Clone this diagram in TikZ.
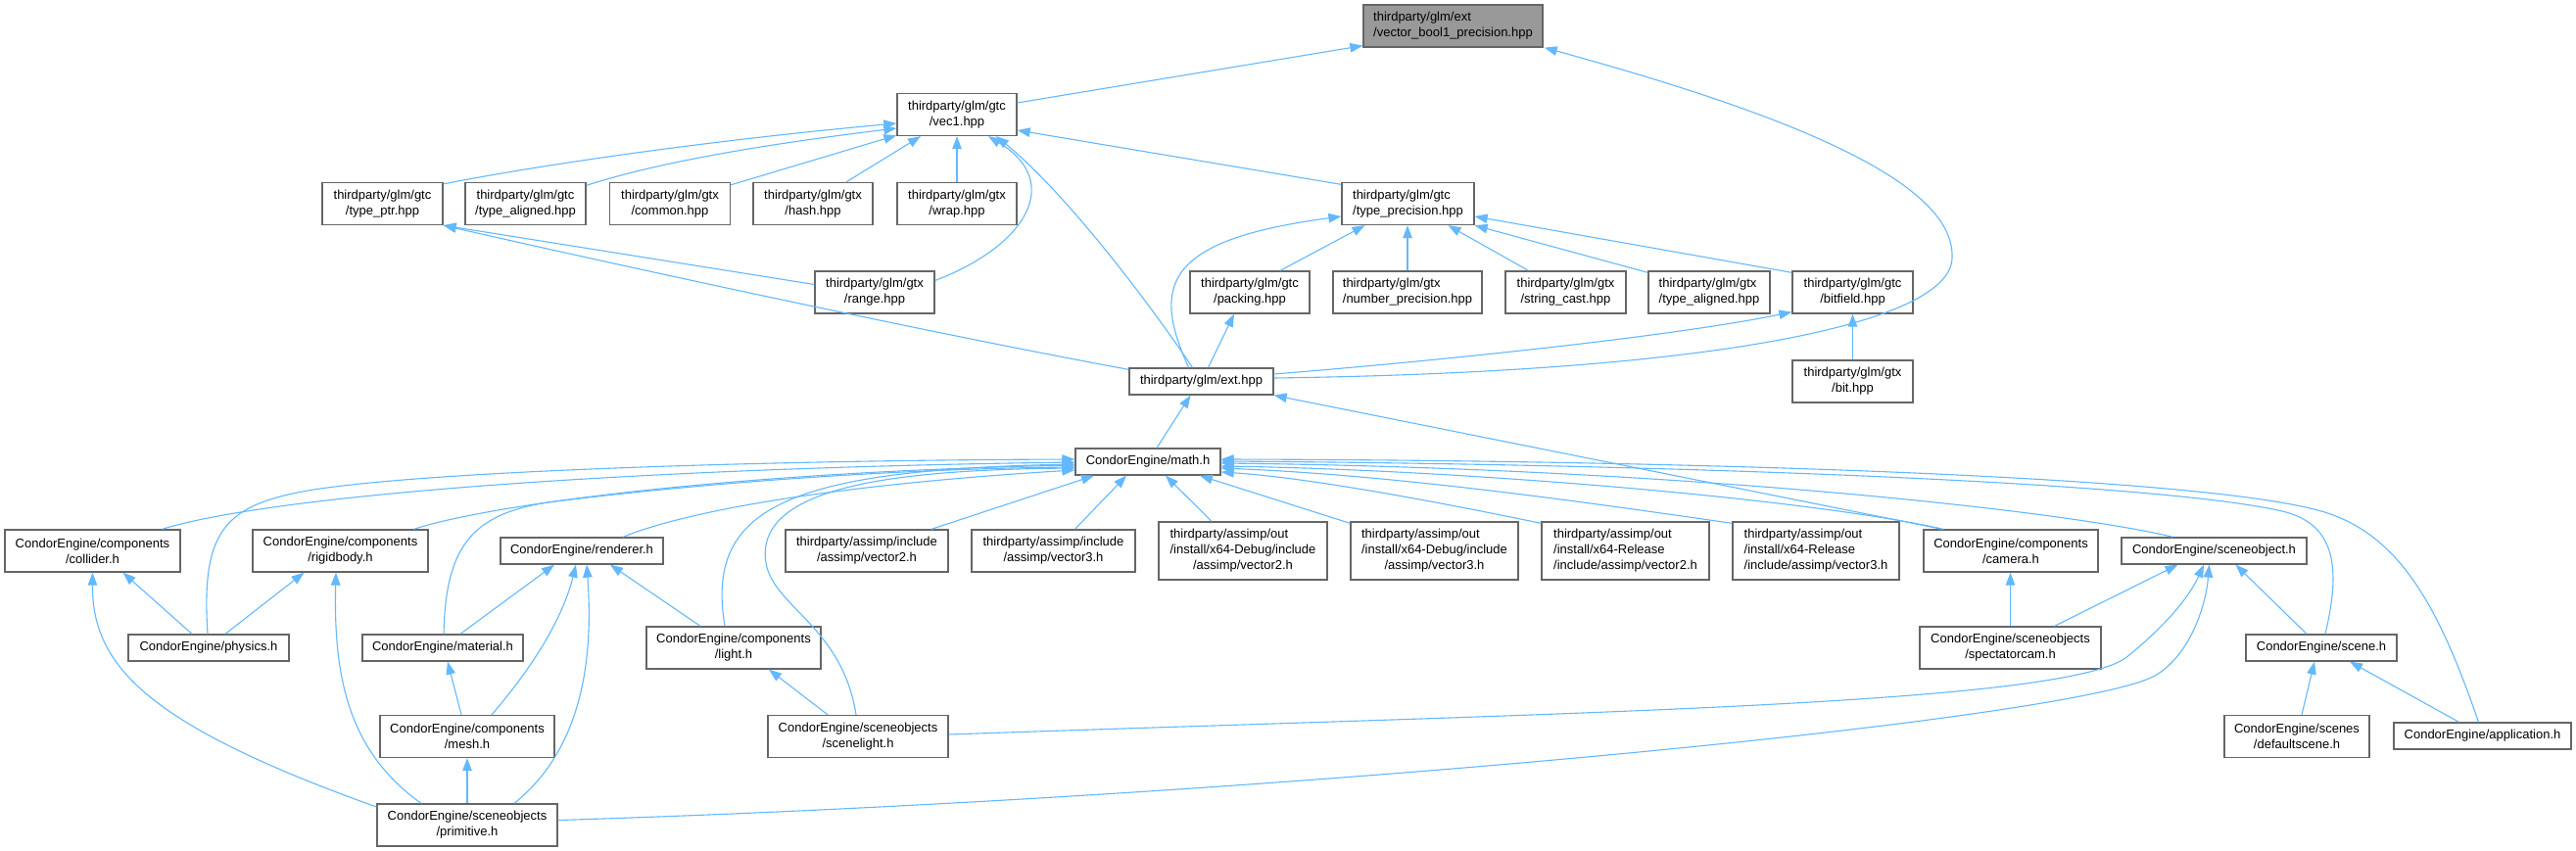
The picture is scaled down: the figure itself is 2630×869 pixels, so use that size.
\documentclass[tikz,border=0pt]{standalone}
\usepackage{fontspec}
\usepackage{tikz}
\usetikzlibrary{arrows.meta}
\newfontfamily\graphfont{Liberation Sans}
\definecolor{edgeblue}{RGB}{99,184,255}
\definecolor{nodeborder}{RGB}{102,102,102}
\definecolor{rootfill}{RGB}{153,153,153}
\newcommand{\mixlines}[3]{\begin{tabular}{@{}l@{}}#1\\#2\\\multicolumn{1}{@{}c@{}}{#3}\end{tabular}}
\begin{document}
\begin{tikzpicture}[x=1pt, y=-1pt,
    file/.style={draw=nodeborder, fill=white, line width=1.3pt, inner sep=0pt, text=black,
        font={\graphfont\fontsize{13}{16}\selectfont}},
    one/.style={file, minimum height=27pt},
    two/.style={file, minimum height=43pt},
    three/.style={file, minimum height=59pt},
    incl/.style={draw=edgeblue, line width=1.1pt, -{Triangle[length=13pt,width=9.5pt]}}]
    \useasboundingbox (0,0) rectangle (2630,869);
    % files
    \node[two, minimum width=183pt, fill=rootfill, align=left] (vb1) at (1483.5,26.5) {thirdparty/glm/ext\\/vector\_bool1\_precision.hpp};
    \node[two, minimum width=122pt, align=center] (vec1) at (977,117) {thirdparty/glm/gtc\\/vec1.hpp};
    \node[two, minimum width=123pt, align=center] (tptr) at (390.5,208) {thirdparty/glm/gtc\\/type\_ptr.hpp};
    \node[two, minimum width=123pt, align=center] (tal1) at (536.5,208) {thirdparty/glm/gtc\\/type\_aligned.hpp};
    \node[two, minimum width=123pt, align=center] (common) at (684,208) {thirdparty/glm/gtx\\/common.hpp};
    \node[two, minimum width=122pt, align=center] (hash) at (830,208) {thirdparty/glm/gtx\\/hash.hpp};
    \node[two, minimum width=122pt, align=center] (wrap) at (977,208) {thirdparty/glm/gtx\\/wrap.hpp};
    \node[two, minimum width=135pt, align=left] (tprec) at (1437.5,208) {thirdparty/glm/gtc\\/type\_precision.hpp};
    \node[two, minimum width=122pt, align=center] (range) at (893,298.5) {thirdparty/glm/gtx\\/range.hpp};
    \node[two, minimum width=122pt, align=center] (packing) at (1276,298.5) {thirdparty/glm/gtc\\/packing.hpp};
    \node[two, minimum width=152pt, align=left] (nprec) at (1437,298.5) {thirdparty/glm/gtx\\/number\_precision.hpp};
    \node[two, minimum width=123pt, align=center] (strcast) at (1598.5,298.5) {thirdparty/glm/gtx\\/string\_cast.hpp};
    \node[two, minimum width=124pt, align=left] (tal2) at (1745,298.5) {thirdparty/glm/gtx\\/type\_aligned.hpp};
    \node[two, minimum width=123pt, align=center] (bitfield) at (1891.5,298.5) {thirdparty/glm/gtc\\/bitfield.hpp};
    \node[one, minimum width=147pt] (ext) at (1226.5,389.5) {thirdparty/glm/ext.hpp};
    \node[two, minimum width=123pt, align=center] (bit) at (1891.5,389.5) {thirdparty/glm/gtx\\/bit.hpp};
    \node[one, minimum width=148pt] (math) at (1172,471.5) {CondorEngine/math.h};
    \node[two, minimum width=179pt, align=center] (collider) at (94.5,562.5) {CondorEngine/components\\/collider.h};
    \node[two, minimum width=179pt, align=center] (rigid) at (347.5,562.5) {CondorEngine/components\\/rigidbody.h};
    \node[one, minimum width=166pt] (renderer) at (594,562.5) {CondorEngine/renderer.h};
    \node[two, minimum width=166pt, align=center] (avi2) at (885,562.5) {thirdparty/assimp/include\\/assimp/vector2.h};
    \node[two, minimum width=167pt, align=center] (avi3) at (1075.5,562.5) {thirdparty/assimp/include\\/assimp/vector3.h};
    \node[three, minimum width=172pt] (dbg2) at (1269,562.5) {\mixlines{thirdparty/assimp/out}{/install/x64-Debug/include}{/assimp/vector2.h}};
    \node[three, minimum width=171pt] (dbg3) at (1464.5,562.5) {\mixlines{thirdparty/assimp/out}{/install/x64-Debug/include}{/assimp/vector3.h}};
    \node[three, minimum width=171pt, align=left] (rel2) at (1659.5,562.5) {thirdparty/assimp/out\\/install/x64-Release\\/include/assimp/vector2.h};
    \node[three, minimum width=170pt, align=left] (rel3) at (1854,562.5) {thirdparty/assimp/out\\/install/x64-Release\\/include/assimp/vector3.h};
    \node[two, minimum width=178pt, align=center] (camera) at (2053,562.5) {CondorEngine/components\\/camera.h};
    \node[one, minimum width=189pt] (sobj) at (2260.5,562.5) {CondorEngine/sceneobject.h};
    \node[one, minimum width=164pt] (physics) at (213,661.5) {CondorEngine/physics.h};
    \node[one, minimum width=164pt] (material) at (452,661.5) {CondorEngine/material.h};
    \node[two, minimum width=178pt, align=center] (light) at (749,661.5) {CondorEngine/components\\/light.h};
    \node[two, minimum width=185pt, align=center] (spect) at (2052.5,661.5) {CondorEngine/sceneobjects\\/spectatorcam.h};
    \node[one, minimum width=154pt] (scene) at (2370,661.5) {CondorEngine/scene.h};
    \node[two, minimum width=178pt, align=center] (mesh) at (477,752) {CondorEngine/components\\/mesh.h};
    \node[two, minimum width=184pt, align=center] (slight) at (876,752) {CondorEngine/sceneobjects\\/scenelight.h};
    \node[two, minimum width=148pt, align=center] (defsc) at (2345,752) {CondorEngine/scenes\\/defaultscene.h};
    \node[one, minimum width=181pt] (app) at (2534.5,751.5) {CondorEngine/application.h};
    \node[two, minimum width=184pt, align=center] (prim) at (477,842.5) {CondorEngine/sceneobjects\\/primitive.h};
    % includes of the root
    \draw[incl] ([yshift=12pt]vec1.east) -- ([yshift=2pt]vb1.south west);
    \draw[incl] ([yshift=3.5pt]ext.east) .. controls (1750,380) and (1995,330) .. (1993,262)
        .. controls (1995,180) and (1800,110) .. ([xshift=1pt]vb1.south east);
    % vec1.hpp
    \draw[incl] ([yshift=-2pt]tptr.north east) .. controls (580,163) and (760,140) .. ([yshift=-9pt]vec1.west);
    \draw[incl] ([yshift=-3.5pt]tal1.north east) .. controls (680,163) and (800,145) .. ([yshift=-14pt]vec1.west);
    \draw[incl] ([yshift=-3pt]common.north east) -- ([yshift=1pt]vec1.south west);
    \draw[incl] ([xshift=34pt]hash.north) -- ([xshift=-37pt]vec1.south);
    \draw[incl] (wrap.north) -- (vec1.south);
    \draw[incl] ([yshift=12pt]range.east) .. controls (1050,250) and (1085,185) .. ([xshift=32pt]vec1.south);
    \draw[incl] ([xshift=-9pt]ext.north) .. controls (1160,290) and (1080,190) .. ([xshift=40pt]vec1.south);
    \draw[incl] ([yshift=-2.5pt]tprec.north west) -- ([yshift=-16pt]vec1.east);
    % type_ptr.hpp
    \draw[incl] ([yshift=8pt]range.west) -- (tptr.south east);
    \draw[incl] ([yshift=-2pt]ext.north west) .. controls (950,340) and (650,275) .. (tptr.south east);
    % type_precision.hpp
    \draw[incl] ([xshift=31pt]packing.north) -- ([xshift=-44pt]tprec.south);
    \draw[incl] (nprec.north) -- (nprec.north |- tprec.south);
    \draw[incl] ([xshift=-38pt]strcast.north) -- ([xshift=41pt]tprec.south);
    \draw[incl] ([yshift=-2pt]tal2.north west) -- (tprec.south east);
    \draw[incl] ([yshift=-2pt]bitfield.north west) -- ([yshift=-13pt]tprec.east);
    \draw[incl] ([xshift=-13pt]ext.north) .. controls (1175,290) and (1190,245) .. ([yshift=-13pt]tprec.west);
    % ext.hpp and bitfield.hpp
    \draw[incl] ([xshift=7pt]ext.north) -- ([xshift=-16pt]packing.south);
    \draw[incl] ([yshift=7.5pt]ext.east) .. controls (1450,370) and (1700,345) .. ([yshift=2pt]bitfield.south west);
    \draw[incl] (bit.north) -- (bitfield.south);
    \draw[incl] ([xshift=9pt]math.north) -- ([xshift=-11pt]ext.south);
    \draw[incl] ([xshift=-70pt]camera.north) -- (ext.south east);
    % math.h
    \draw[incl] ([xshift=71pt]collider.north) .. controls (280,505) and (650,478) .. ([yshift=-0.5pt]math.west);
    \draw[incl] ([xshift=-1pt]physics.north) .. controls (205,540) and (230,515) .. (320,500)
        .. controls (450,480) and (800,470) .. ([yshift=2.5pt]math.west);
    \draw[incl] ([xshift=75pt]rigid.north) .. controls (500,515) and (750,482) .. ([yshift=-3.5pt]math.west);
    \draw[incl] ([xshift=1pt]material.north) .. controls (455,560) and (480,525) .. (560,513)
        .. controls (700,495) and (900,479) .. ([yshift=-5.5pt]math.west);
    \draw[incl] ([xshift=42pt]renderer.north) .. controls (700,522) and (850,495) .. ([yshift=-8.5pt]math.west);
    \draw[incl] ([xshift=-9pt]light.north) .. controls (720,520) and (800,480) .. ([yshift=-2.5pt]math.west);
    \draw[incl] ([xshift=-2pt]slight.north) .. controls (860,640) and (790,620) .. (782,575)
        .. controls (770,500) and (900,480) .. ([yshift=-6.5pt]math.west);
    \draw[incl] ([xshift=66pt]avi2.north) -- ([xshift=-55pt]math.south);
    \draw[incl] ([xshift=22pt]avi3.north) -- ([xshift=-22pt]math.south);
    \draw[incl] ([xshift=-32pt]dbg2.north) -- ([xshift=18pt]math.south);
    \draw[incl] ([yshift=-2pt]dbg3.north west) -- ([xshift=53pt]math.south);
    \draw[incl] ([yshift=-2pt]rel2.north west) .. controls (1480,515) and (1340,488) .. ([yshift=-10.5pt]math.east);
    \draw[incl] ([yshift=-2pt]rel3.north west) .. controls (1600,510) and (1420,485) .. ([yshift=-6.5pt]math.east);
    \draw[incl] ([xshift=-69pt]camera.north) .. controls (1850,510) and (1500,480) .. ([yshift=-4.5pt]math.east);
    \draw[incl] ([xshift=-42pt]sobj.north) .. controls (2100,520) and (1700,478) .. ([yshift=-1.5pt]math.east);
    \draw[incl] ([xshift=4pt]scene.north) .. controls (2390,580) and (2385,535) .. (2330,522)
        .. controls (2200,492) and (1700,474) .. ([yshift=0.5pt]math.east);
    \draw[incl] ([xshift=-4pt]app.north) .. controls (2490,620) and (2450,545) .. (2370,522)
        .. controls (2240,485) and (1700,470) .. ([yshift=2.5pt]math.east);
    % engine headers
    \draw[incl] ([xshift=-17pt]physics.north) -- ([xshift=31pt]collider.south);
    \draw[incl] ([yshift=18.5pt]prim.west) .. controls (150,740) and (94,680) .. (collider.south);
    \draw[incl] ([xshift=17pt]physics.north) -- ([xshift=-37pt]rigid.south);
    \draw[incl] ([xshift=-47pt]prim.north) .. controls (360,770) and (340,700) .. ([xshift=-4.5pt]rigid.south);
    \draw[incl] ([xshift=18pt]material.north) -- ([xshift=-28pt]renderer.south);
    \draw[incl] ([xshift=25pt]mesh.north) .. controls (545,680) and (575,630) .. ([xshift=-6pt]renderer.south);
    \draw[incl] ([xshift=48pt]prim.north) .. controls (600,760) and (605,660) .. ([xshift=5pt]renderer.south);
    \draw[incl] ([xshift=-34pt]light.north) -- ([xshift=29pt]renderer.south);
    \draw[incl] ([xshift=-6pt]mesh.north) -- ([xshift=5pt]material.south);
    \draw[incl] (prim.north) -- (mesh.south);
    \draw[incl] ([xshift=-31pt]slight.north) -- ([xshift=36pt]light.south);
    \draw[incl] (spect.north) -- (spect.north |- camera.south);
    \draw[incl] ([xshift=45pt]spect.north) -- ([xshift=-37pt]sobj.south);
    \draw[incl] ([yshift=2pt]slight.east) .. controls (1600,728) and (2100,720) .. (2170,672)
        .. controls (2210,640) and (2235,610) .. ([xshift=-10.5pt]sobj.south);
    \draw[incl] ([yshift=5pt]prim.east) .. controls (1300,815) and (2120,735) .. (2200,690)
        .. controls (2235,670) and (2252,620) .. ([xshift=-5pt]sobj.south);
    \draw[incl] ([xshift=-15pt]scene.north) -- ([xshift=22pt]sobj.south);
    \draw[incl] ([xshift=5pt]defsc.north) -- ([xshift=-7pt]scene.south);
    \draw[incl] ([xshift=-24pt]app.north) -- ([xshift=29pt]scene.south);
\end{tikzpicture}
\end{document}
